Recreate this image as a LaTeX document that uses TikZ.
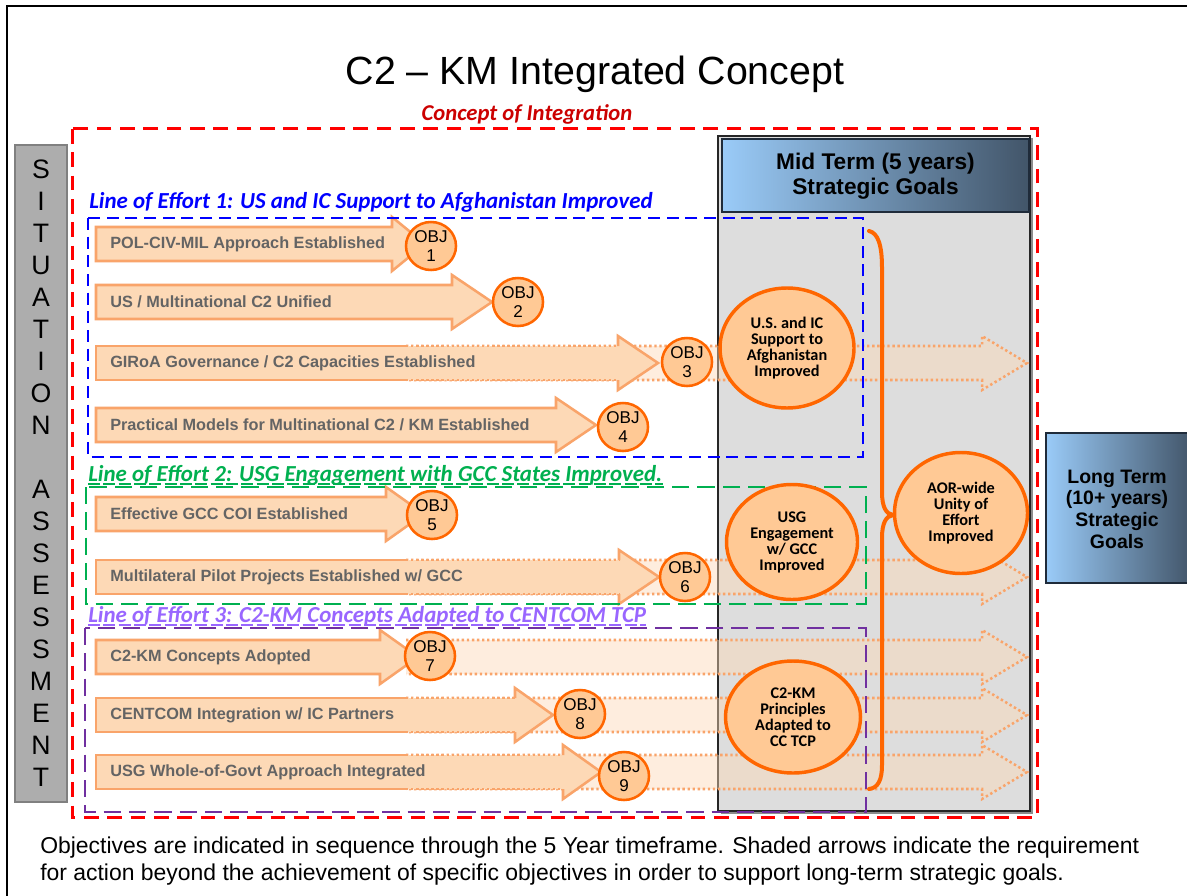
\documentclass[tikz,border=0pt]{standalone}
\usepackage{fontspec}
\setmainfont{Liberation Sans}
\newfontfamily\calfont{Carlito}
\usetikzlibrary{shapes.geometric}
\definecolor{arrfill}{HTML}{FDD9B6}
\definecolor{arrline}{HTML}{F9A46A}
\definecolor{objfill}{HTML}{FFC995}
\definecolor{objline}{HTML}{FF6600}
\definecolor{armgray}{HTML}{646464}
\definecolor{loeblue}{HTML}{0000FF}
\definecolor{loegreen}{HTML}{00B050}
\definecolor{loepurple}{HTML}{7030A0}
\definecolor{loelav}{HTML}{9966FF}
\definecolor{cred}{HTML}{CC0000}
\definecolor{midgray}{HTML}{DDDDDD}
\definecolor{sitgray}{HTML}{ADADAD}
\definecolor{sitline}{HTML}{808080}
\definecolor{lightblue}{HTML}{9ACBF8}
\definecolor{midblue}{HTML}{7EA2C8}
\definecolor{slate}{HTML}{425569}
\definecolor{hdrline}{HTML}{1F2B3A}
\tikzset{
  armbody/.style={fill=arrfill, draw=arrline, line width=1.9pt},
  armline/.style={draw=arrline, line width=1.9pt},
  fadeline/.style={draw=arrline, line width=1.9pt, dash pattern=on 1.8pt off 2pt},
  fadefill/.style={fill=arrfill, fill opacity=.45},
  armtext/.style={anchor=west, inner sep=0pt, text=armgray, font=\bfseries\fontsize{12.2}{14}\selectfont},
  objc/.style={ellipse, draw=objline, fill=objfill, line width=1.9pt, minimum width=37.5pt, minimum height=36pt, inner sep=0pt, align=center, font=\fontsize{12.8}{14}\selectfont},
  goalc/.style={ellipse, draw=objline, fill=objfill, line width=2.6pt, inner sep=0pt, align=center, font=\calfont\bfseries\fontsize{12.2}{12}\selectfont},
  loelabel/.style={anchor=base west, inner sep=0pt, font=\calfont\bfseries\itshape\fontsize{17.2}{20}\selectfont},
}
% #1 yc
\newcommand\fadearr[1]{%
  \path[fadefill] (406,{#1-17}) -- (982,{#1-17}) -- (982,{#1-27}) -- (1027,#1) -- (982,{#1+27}) -- (982,{#1+17}) -- (406,{#1+17}) -- cycle;
  \path[fadeline] (406,{#1-17}) -- (982,{#1-17}) -- (982,{#1-27}) -- (1027,#1) -- (982,{#1+27}) -- (982,{#1+17}) -- (406,{#1+17});
}
% #1 name, #2 head start, #3 tip, #4 yc, #5 text
\newcommand\solidarr[5]{%
  \path[armbody] (96,{#4-17}) -- (#2,{#4-17}) -- (#2,{#4-27}) -- (#3,#4) -- (#2,{#4+27}) -- (#2,{#4+17}) -- (96,{#4+17}) -- cycle;
  \node[armtext] (#1) at (110,#4) {#5};
}
\newcommand\splitarr[5]{%
  \fill[arrfill] (96,{#4-17}) -- (#2,{#4-17}) -- (#2,{#4-27}) -- (#3,#4) -- (#2,{#4+27}) -- (#2,{#4+17}) -- (96,{#4+17}) -- cycle;
  \path[armline] (406,{#4-17}) -- (96,{#4-17}) -- (96,{#4+17}) -- (406,{#4+17});
  \path[armline] (#2,{#4-17}) -- (#2,{#4-27}) -- (#3,#4) -- (#2,{#4+27}) -- (#2,{#4+17});
  \path[fadeline] (406,{#4-17}) -- (#2,{#4-17});
  \path[fadeline] (406,{#4+17}) -- (#2,{#4+17});
  \node[armtext] (#1) at (110,#4) {#5};
}
\begin{document}
\begin{tikzpicture}[x=0.75pt,y=-0.75pt]
\useasboundingbox (0,0) rectangle (1187,895);
\clip (0,0) rectangle (1187,895);
\fill[white] (0,0) rectangle (1187,895);
\draw[line width=2.2pt] (7,900) -- (7,6) -- (1195,6);

% title
\node[anchor=base, font=\fontsize{29.5}{34}\selectfont] (title) at (595,85) {C2 – KM Integrated Concept};

% mid term box
\fill[black!45] (720.5,138.5) rectangle (1032.5,813.5);
\filldraw[fill=midgray, draw=black!85, line width=0.8pt] (718,136) rectangle (1030,811);
\shade[left color=lightblue, middle color=midblue, right color=slate] (722,139) rectangle (1029,212);
\draw[hdrline, line width=1.2pt] (722,139) rectangle (1029,212);
\node[align=center, font=\bfseries\fontsize{17}{18.75}\selectfont] (midhdr) at (875.5,176) {Mid Term (5 years)\\Strategic Goals};

% concept of integration
\draw[red, line width=2.25pt, dash pattern=on 11pt off 6.5pt] (72,129) rectangle (1037,817);
\node[anchor=base, inner sep=0pt, text=cred, font=\calfont\bfseries\itshape\fontsize{17}{20}\selectfont] (coi) at (527,121) {Concept of Integration};

% situation assessment
\node[draw=sitline, fill=sitgray, line width=1.5pt, minimum width=39pt, minimum height=492.75pt, inner sep=0pt] (sit) at (41,473.5) {};
\node[anchor=north, inner sep=0pt, align=center, font=\fontsize{20}{24}\selectfont] (sittext) at (41,160) {S\\I\\T\\U\\A\\T\\I\\O\\N\\\mbox{}\\A\\S\\S\\E\\S\\S\\M\\E\\N\\T};

% shaded extension arrows
\fadearr{363}
\fadearr{577}
\fadearr{657}
\fadearr{715}
\fadearr{772}

% solid arrows
\solidarr{a1}{392}{425}{244}{POL-CIV-MIL Approach Established}
\solidarr{a2}{452}{492}{302}{US / Multinational C2 Unified}
\splitarr{a3}{618}{658}{363}{GIRoA Governance / C2 Capacities Established}
\solidarr{a4}{556}{596}{425}{Practical Models for Multinational C2 / KM Established}
\solidarr{a5}{386}{424}{514}{Effective GCC COI Established}
\splitarr{a6}{619}{659}{577}{Multilateral Pilot Projects Established w/ GCC}
\solidarr{a7}{380}{418}{657}{C2-KM Concepts Adopted}
\splitarr{a8}{515}{553}{715}{CENTCOM Integration w/ IC Partners}
\splitarr{a9}{563}{601}{772}{USG Whole-of-Govt Approach Integrated}

% lines of effort
\draw[loeblue, line width=1.9pt, dash pattern=on 9pt off 5pt] (88,218) rectangle (863,457);
\node[loelabel, text=loeblue] (loe1) at (89,208) {Line of Effort 1: US and IC Support to Afghanistan Improved};
\draw[loegreen, line width=1.9pt, dash pattern=on 13pt off 6pt] (86,487) rectangle (866,604);
\node[loelabel, text=loegreen] (loe2) at (88,481) {Line of Effort 2: USG Engagement with GCC States Improved.};
\draw[loegreen, line width=1pt, dash pattern=on 9pt off 2.5pt] ([yshift=-2.2pt]loe2.base west) -- ([yshift=-2.2pt]loe2.base east);
\draw[loepurple, line width=1.9pt, dash pattern=on 13pt off 6pt] (85,628) rectangle (866,812);
\node[loelabel, text=loelav] (loe3) at (88,622) {Line of Effort 3: C2-KM Concepts Adapted to CENTCOM TCP};
\draw[loelav, line width=1pt, dash pattern=on 9pt off 2.5pt] ([yshift=-2.2pt]loe3.base west) -- ([yshift=-2.2pt]loe3.base east);

% objectives
\node[objc] (o1) at (431,246) {OBJ\\1};
\node[objc] (o2) at (518,302) {OBJ\\2};
\node[objc] (o3) at (687,362) {OBJ\\3};
\node[objc] (o4) at (623,427) {OBJ\\4};
\node[objc] (o5) at (432,515) {OBJ\\5};
\node[objc] (o6) at (685,577) {OBJ\\6};
\node[objc] (o7) at (430,656) {OBJ\\7};
\node[objc] (o8) at (580,714) {OBJ\\8};
\node[objc] (o9) at (624,776) {OBJ\\9};

% mid-term goals
\node[goalc, minimum width=100.5pt, minimum height=90pt] (g1) at (787,348) {U.S. and IC\\Support to\\Afghanistan\\Improved};
\node[goalc, minimum width=98.25pt, minimum height=86.25pt] (g2) at (792,542) {USG\\Engagement\\w/ GCC\\Improved};
\node[goalc, minimum width=101.25pt, minimum height=84pt] (g3) at (793,717) {C2-KM\\Principles\\Adapted to\\CC TCP};

% brace
\draw[objline, line width=3pt, line cap=round] (869,231) .. controls (878,233) and (882,245) .. (882,268) -- (882,492) .. controls (882,507) and (886,514) .. (893,515) .. controls (886,516) and (882,523) .. (882,538) -- (882,765) .. controls (882,780) and (878,788) .. (869,789);
\node[goalc, minimum width=99.75pt, minimum height=90.75pt] (g4) at (961,513) {AOR-wide\\Unity of\\Effort\\Improved};

% long term
\shade[left color=lightblue, middle color=midblue, right color=slate] (1046,433) rectangle (1192,583);
\draw[hdrline, line width=1.5pt] (1046,433) rectangle (1192,583);
\node[align=center, font=\bfseries\fontsize{14.6}{16.3}\selectfont] (longterm) at (1117,509) {Long Term\\(10+ years)\\Strategic\\Goals};

% note
\node[anchor=base west, inner sep=0pt, font=\fontsize{17.2}{20}\selectfont] (note1) at (40,853) {Objectives are indicated in sequence through the 5 Year timeframe. Shaded arrows indicate the requirement};
\node[anchor=base west, inner sep=0pt, font=\fontsize{17.2}{20}\selectfont] (note2) at (40,880) {for action beyond the achievement of specific objectives in order to support long-term strategic goals.};
\end{tikzpicture}
\end{document}
